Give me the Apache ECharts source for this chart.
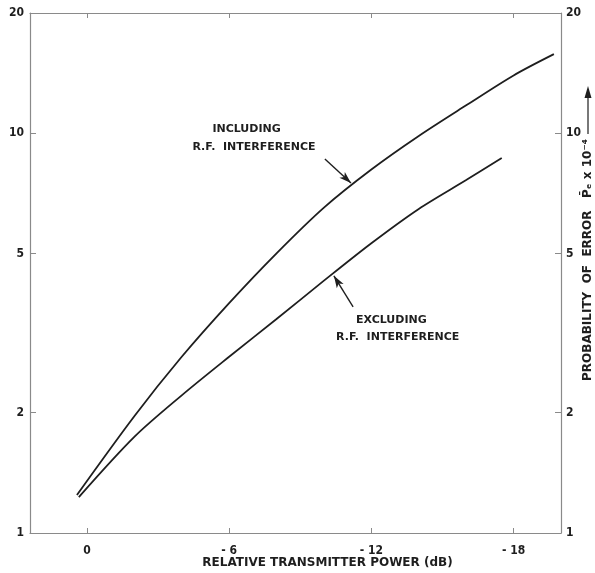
<!DOCTYPE html>
<html>
<head>
<meta charset="utf-8">
<script src="https://cdn.jsdelivr.net/npm/echarts@6/dist/echarts.min.js"></script>
<style>
  html, body { margin: 0; padding: 0; background: #fff; }
  #chart { width: 595px; height: 573px; }
</style>
</head>
<body>
<div id="chart"></div>
<script>
// Relative transmitter power (dB) and probability of error (x 1e-4)
const includingPower = [0.42, -2, -4, -6, -8, -10, -12, -14, -16, -18, -19.7];
const includingError = [1.245, 1.96, 2.76, 3.76, 5.01, 6.52, 8.12, 9.85, 11.75, 13.96, 15.78];
const excludingPower = [0.34, -2, -4, -6, -8, -10, -12, -14, -16, -17.5];
const excludingError = [1.23, 1.74, 2.21, 2.76, 3.43, 4.28, 5.31, 6.47, 7.64, 8.67];

const powerTicks = [0, -6, -12, -18];
const errorTicks = [1, 2, 5, 10, 20];

// Caption anchors in data space ([power, error] at the left end of the second line)
const includingLabelAt = [-4.45, 9.24];
const includingArrow = [[-10.04, 8.62], [-11.14, 7.51]];
const excludingLabelAt = [-10.51, 3.09];
const excludingArrow = [[-11.23, 3.68], [-10.42, 4.40]];

const FONT = '"DejaVu Sans", sans-serif';
const TICK_FONT = '"DejaVu Sans Condensed", "DejaVu Sans", sans-serif';
const INK = '#1e1e1e';
const AXIS = '#8a8a8a';

const pairs = (xs, ys) => xs.map((x, i) => [x, ys[i]]);
const fmtPower = v => (v < 0 ? '- ' + (-v) : String(v));

const chart = echarts.init(document.getElementById('chart'), null, { renderer: 'canvas' });

const xCommon = {
  type: 'value', min: -20, max: 2.4, inverse: true,
  splitLine: { show: false },
  axisLine: { show: true, onZero: false, lineStyle: { color: AXIS, width: 1.2 } },
  axisTick: { show: true, inside: true, length: 5, customValues: powerTicks, lineStyle: { color: AXIS } }
};
const yCommon = {
  type: 'log', logBase: 10, min: 1, max: 20,
  splitLine: { show: false }, minorTick: { show: false },
  axisLine: { show: true, onZero: false, lineStyle: { color: AXIS, width: 1.2 } },
  axisTick: { show: true, inside: true, length: 6, customValues: errorTicks, lineStyle: { color: AXIS } }
};
const tickLabel = { color: INK, fontFamily: TICK_FONT, fontSize: 12, fontWeight: 'bold' };

chart.setOption({
  animation: false,
  backgroundColor: '#fff',
  grid: { left: 30, right: 34, top: 13, bottom: 40 },
  xAxis: [
    Object.assign({}, xCommon, {
      position: 'bottom',
      axisLabel: Object.assign({ customValues: powerTicks, formatter: fmtPower, margin: 12 }, tickLabel)
    }),
    Object.assign({}, xCommon, { position: 'top', axisLabel: { show: false } })
  ],
  yAxis: [
    Object.assign({}, yCommon, {
      position: 'left',
      axisLabel: Object.assign({ customValues: errorTicks, margin: 6 }, tickLabel)
    }),
    Object.assign({}, yCommon, {
      position: 'right',
      axisLabel: Object.assign({ customValues: errorTicks, margin: 5 }, tickLabel)
    })
  ],
  series: [
    {
      name: 'INCLUDING R.F. INTERFERENCE', type: 'line', smooth: 0.3, showSymbol: false,
      xAxisIndex: 0, yAxisIndex: 0,
      data: pairs(includingPower, includingError),
      lineStyle: { color: INK, width: 1.8 },
      markLine: {
        silent: true, symbol: ['none', 'arrow'], symbolSize: [6, 12],
        lineStyle: { color: INK, width: 1.4, type: 'solid' }, label: { show: false },
        data: [[{ coord: includingArrow[0] }, { coord: includingArrow[1] }]]
      }
    },
    {
      name: 'EXCLUDING R.F. INTERFERENCE', type: 'line', smooth: 0.3, showSymbol: false,
      xAxisIndex: 0, yAxisIndex: 0,
      data: pairs(excludingPower, excludingError),
      lineStyle: { color: INK, width: 1.8 },
      markLine: {
        silent: true, symbol: ['none', 'arrow'], symbolSize: [6, 12],
        lineStyle: { color: INK, width: 1.4, type: 'solid' }, label: { show: false },
        data: [[{ coord: excludingArrow[0] }, { coord: excludingArrow[1] }]]
      }
    }
  ]
});

// Curve captions and axis titles placed from the chart's own coordinate system
const toPx = p => chart.convertToPixel({ xAxisIndex: 0, yAxisIndex: 0 }, p);
const incAt = toPx(includingLabelAt);
const excAt = toPx(excludingLabelAt);
const gridRect = chart.getModel().getComponent('grid').coordinateSystem.getRect();

const capFont = 'bold 11px ' + FONT;
const cap = (text, x, y) => ({ type: 'text', x: x, y: y,
  style: { text: text, fill: INK, font: capFont, align: 'left', verticalAlign: 'middle' } });

chart.setOption({
  graphic: [
    cap('INCLUDING', incAt[0] + 20, incAt[1] - 18),
    cap('R.F.  INTERFERENCE', incAt[0], incAt[1]),
    cap('EXCLUDING', excAt[0] + 20, excAt[1] - 17),
    cap('R.F.  INTERFERENCE', excAt[0], excAt[1]),
    { type: 'text', x: gridRect.x + gridRect.width / 2 + 32, y: 563,
      style: { text: 'RELATIVE TRANSMITTER POWER (dB)', fill: INK, font: 'bold 12px ' + FONT, align: 'center', verticalAlign: 'middle' } },
    { type: 'text', x: 588, y: 260, rotation: Math.PI / 2,
      style: { text: 'PROBABILITY  OF  ERROR   P\u0304\u2091 x 10\u207B\u2074', fill: INK, font: 'bold 12px ' + FONT, align: 'center', verticalAlign: 'middle' } },
    { type: 'line', shape: { x1: 588, y1: 134, x2: 588, y2: 96 }, style: { stroke: INK, lineWidth: 1.2 } },
    { type: 'polygon', shape: { points: [[588, 86], [584.5, 98], [591.5, 98]] }, style: { fill: INK } }
  ]
});
</script>
</body>
</html>
